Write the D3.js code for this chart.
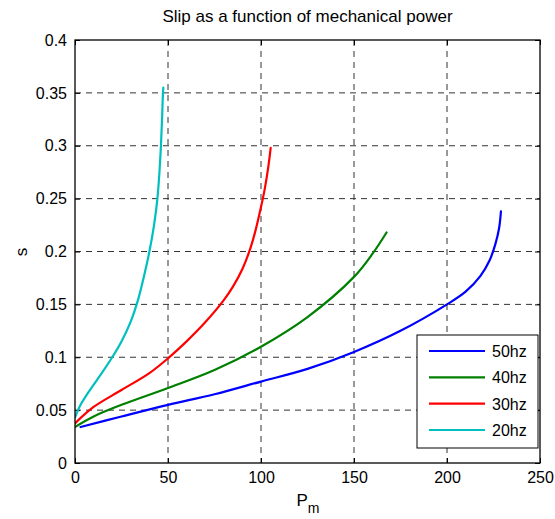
<!DOCTYPE html>
<html>
<head>
<meta charset="utf-8">
<script src="https://cdn.jsdelivr.net/npm/d3@7/dist/d3.min.js"></script>
<style>
  html, body { margin: 0; padding: 0; background: #fff; }
  svg { display: block; font-family: "Liberation Sans", Arial, sans-serif; }
</style>
</head>
<body>
<svg id="chart" width="555" height="519"></svg>
<script>
// Slip s versus mechanical power P_m for four supply frequencies
const seriesNames = ["50hz", "40hz", "30hz", "20hz"];
const seriesColors = ["#0000ff", "#008000", "#ff0000", "#00bfbf"];

const pm50 = [3, 25, 50, 75, 100, 125, 150, 175, 200, 210, 218, 223, 226, 228, 229];
const s50  = [0.034, 0.044, 0.055, 0.065, 0.077, 0.089, 0.105, 0.125, 0.150, 0.162, 0.177, 0.192, 0.207, 0.222, 0.238];

const pm40 = [0, 10, 25, 50, 75, 100, 125, 150, 160, 167.5];
const s40  = [0.034, 0.044, 0.055, 0.071, 0.088, 0.110, 0.138, 0.176, 0.198, 0.218];

const pm30 = [0, 10, 25, 40, 50, 60, 70, 80, 85, 90, 94, 97, 100, 102, 104, 105.2];
const s30  = [0.0375, 0.053, 0.069, 0.085, 0.099, 0.115, 0.133, 0.154, 0.167, 0.1835, 0.2015, 0.2195, 0.242, 0.259, 0.281, 0.298];

const pm20 = [0, 3, 8, 14, 20, 25, 30, 34, 37, 40, 42.5, 44.3, 45.4, 46.2, 46.8, 47.3, 47.5];
const s20  = [0.043, 0.055, 0.069, 0.084, 0.100, 0.115, 0.134, 0.155, 0.176, 0.200, 0.225, 0.250, 0.275, 0.300, 0.325, 0.350, 0.355];

const xTicks = [0, 50, 100, 150, 200, 250];
const yTicks = [0, 0.05, 0.1, 0.15, 0.2, 0.25, 0.3, 0.35, 0.4];

const titleText = "Slip as a function of mechanical power";

const series = [
  { name: seriesNames[0], color: seriesColors[0], pm: pm50, s: s50 },
  { name: seriesNames[1], color: seriesColors[1], pm: pm40, s: s40 },
  { name: seriesNames[2], color: seriesColors[2], pm: pm30, s: s30 },
  { name: seriesNames[3], color: seriesColors[3], pm: pm20, s: s20 }
];

const plot = { left: 75, right: 540, top: 40, bottom: 463 };
const svg = d3.select("#chart");
const fontSize = "16px";

const x = d3.scaleLinear().domain([0, 250]).range([plot.left, plot.right]);
const y = d3.scaleLinear().domain([0, 0.4]).range([plot.bottom, plot.top]);

// dashed grid
const grid = svg.append("g");
grid.selectAll("line.gx").data(xTicks.slice(1, -1)).enter().append("line")
  .attr("x1", d => x(d)).attr("x2", d => x(d))
  .attr("y1", plot.top).attr("y2", plot.bottom)
  .attr("stroke", "#333").attr("stroke-width", 1).attr("stroke-dasharray", "6,5");
grid.selectAll("line.gy").data(yTicks.slice(1, -1)).enter().append("line")
  .attr("y1", d => y(d)).attr("y2", d => y(d))
  .attr("x1", plot.left).attr("x2", plot.right)
  .attr("stroke", "#333").attr("stroke-width", 1).attr("stroke-dasharray", "6,5");

// axes (inward ticks on all four sides)
const fmtY = d => d === 0 ? "0" : String(+d.toFixed(2));
const axB = svg.append("g").attr("transform", `translate(0,${plot.bottom})`)
  .call(d3.axisBottom(x).tickValues(xTicks).tickSizeInner(-5).tickSizeOuter(0).tickPadding(9));
const axT = svg.append("g").attr("transform", `translate(0,${plot.top})`)
  .call(d3.axisTop(x).tickValues(xTicks).tickSizeInner(-5).tickSizeOuter(0).tickFormat(""));
const axL = svg.append("g").attr("transform", `translate(${plot.left},0)`)
  .call(d3.axisLeft(y).tickValues(yTicks).tickSizeInner(-5).tickSizeOuter(0).tickPadding(8).tickFormat(fmtY));
const axR = svg.append("g").attr("transform", `translate(${plot.right},0)`)
  .call(d3.axisRight(y).tickValues(yTicks).tickSizeInner(-5).tickSizeOuter(0).tickFormat(""));
[axB, axT, axL, axR].forEach(a => {
  a.select(".domain").remove();
  a.selectAll(".tick line").attr("stroke", "#000");
  a.selectAll(".tick text").attr("fill", "#000").style("font-size", fontSize)
    .style("font-family", "'Liberation Sans', Arial, sans-serif");
});

// curves
const line = d3.line().x(d => x(d[0])).y(d => y(d[1])).curve(d3.curveCatmullRom.alpha(0.5));
svg.append("clipPath").attr("id", "plotclip").append("rect")
  .attr("x", plot.left).attr("y", plot.top)
  .attr("width", plot.right - plot.left).attr("height", plot.bottom - plot.top);
svg.append("g").attr("clip-path", "url(#plotclip)")
  .selectAll("path").data(series).enter().append("path")
  .attr("d", d => line(d.pm.map((p, i) => [p, d.s[i]])))
  .attr("fill", "none").attr("stroke", d => d.color).attr("stroke-width", 2.2)
  .attr("stroke-linejoin", "round").attr("stroke-linecap", "round");

// plot box
svg.append("rect").attr("x", plot.left).attr("y", plot.top)
  .attr("width", plot.right - plot.left).attr("height", plot.bottom - plot.top)
  .attr("fill", "none").attr("stroke", "#000").attr("stroke-width", 1.3);

// title and axis labels
svg.append("text").attr("x", (plot.left + plot.right) / 2).attr("y", 22)
  .attr("text-anchor", "middle").style("font-size", "17px").text(titleText);

const xl = svg.append("text").attr("x", 308).attr("y", 506).attr("text-anchor", "middle")
  .style("font-size", "17px");
xl.append("tspan").text("P");
xl.append("tspan").attr("dy", 7).style("font-size", "14px").text("m");

svg.append("text").attr("transform", "translate(27,252) rotate(-90)")
  .attr("text-anchor", "middle").style("font-size", "17px").text("s");

// legend
const lg = svg.append("g");
lg.append("rect").attr("x", 417).attr("y", 335).attr("width", 121).attr("height", 113)
  .attr("fill", "#fff").attr("stroke", "#000").attr("stroke-width", 1);
const rowY = d3.scalePoint().domain(seriesNames).range([351, 430]);
const rows = lg.selectAll("g.row").data(series).enter().append("g")
  .attr("transform", d => `translate(0,${rowY(d.name)})`);
rows.append("line").attr("x1", 429).attr("x2", 485)
  .attr("stroke", d => d.color).attr("stroke-width", 2.2);
rows.append("text").attr("x", 492).attr("y", 6).style("font-size", fontSize).text(d => d.name);
</script>
</body>
</html>
